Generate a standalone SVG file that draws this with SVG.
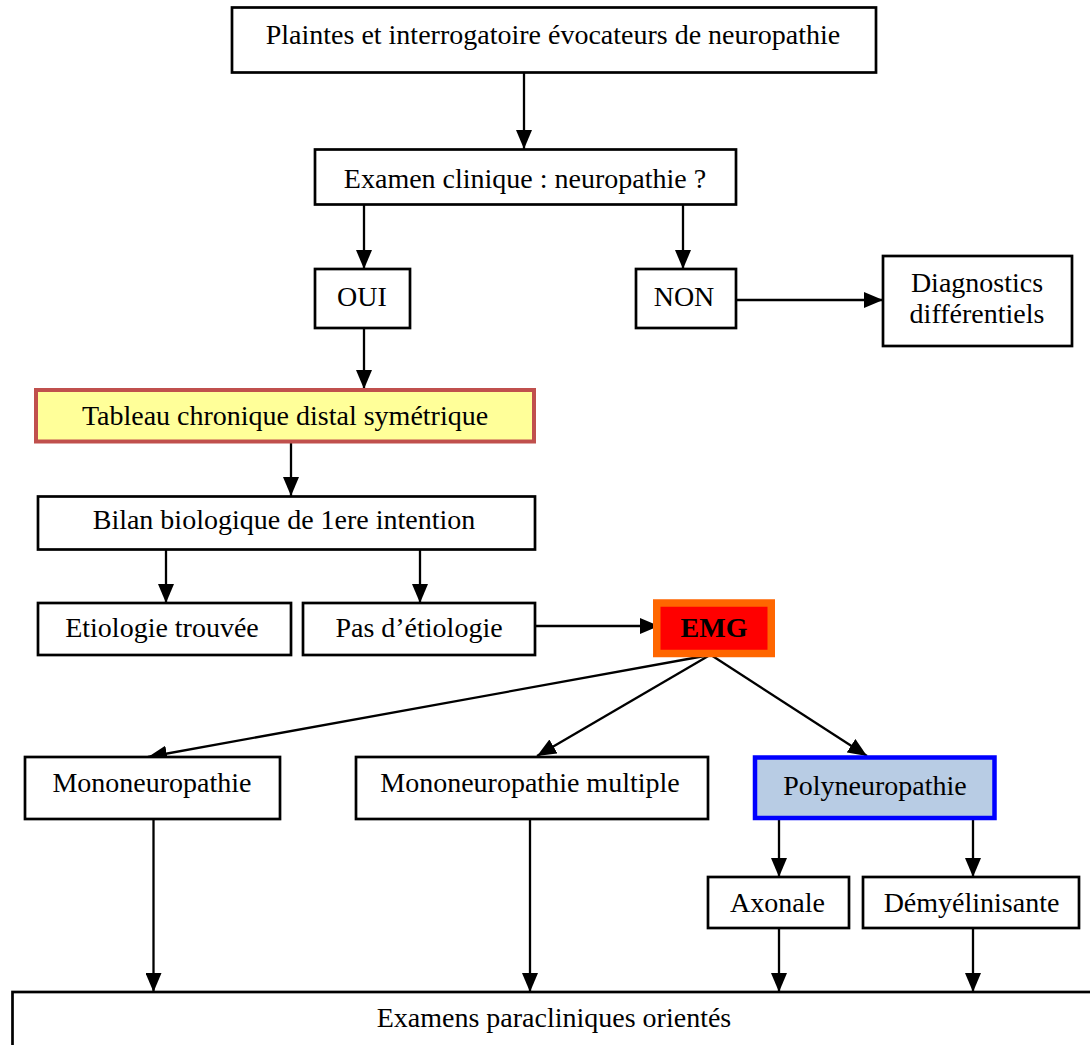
<svg xmlns="http://www.w3.org/2000/svg" width="1090" height="1045" viewBox="0 0 1090 1045">
<defs>
<style>
.box{fill:#ffffff;stroke:#000000;stroke-width:2.7}
.t{font-family:"Liberation Serif","Times New Roman",serif;font-size:28px;fill:#000000;text-anchor:middle}
.c{fill:none;stroke:#000000;stroke-width:2.3}
</style>
<marker id="ah" markerUnits="userSpaceOnUse" markerWidth="19" markerHeight="16" refX="19" refY="8" orient="auto">
<path d="M0,0 L19,8 L0,16 z" fill="#000000"/>
</marker>
</defs>
<rect width="1090" height="1045" fill="#ffffff"/>
<g id="connectors">
<line class="c" x1="524" y1="73" x2="524" y2="149" marker-end="url(#ah)"/>
<line class="c" x1="364" y1="204" x2="364" y2="269" marker-end="url(#ah)"/>
<line class="c" x1="683" y1="204" x2="683" y2="269" marker-end="url(#ah)"/>
<line class="c" x1="736" y1="300" x2="883" y2="300" marker-end="url(#ah)"/>
<line class="c" x1="364" y1="328" x2="364" y2="389" marker-end="url(#ah)"/>
<line class="c" x1="291" y1="443" x2="291" y2="496" marker-end="url(#ah)"/>
<line class="c" x1="166" y1="550" x2="166" y2="603" marker-end="url(#ah)"/>
<line class="c" x1="420" y1="550" x2="420" y2="603" marker-end="url(#ah)"/>
<line class="c" x1="535" y1="626" x2="659" y2="626" marker-end="url(#ah)"/>
<line class="c" x1="710" y1="655" x2="148" y2="757" marker-end="url(#ah)"/>
<line class="c" x1="710" y1="655" x2="537" y2="756" marker-end="url(#ah)"/>
<line class="c" x1="711" y1="655" x2="867" y2="756" marker-end="url(#ah)"/>
<line class="c" x1="153.5" y1="820" x2="153.5" y2="992" marker-end="url(#ah)"/>
<line class="c" x1="530" y1="820" x2="530" y2="992" marker-end="url(#ah)"/>
<line class="c" x1="779" y1="820" x2="779" y2="877" marker-end="url(#ah)"/>
<line class="c" x1="973" y1="820" x2="973" y2="877" marker-end="url(#ah)"/>
<line class="c" x1="779" y1="928" x2="779" y2="992" marker-end="url(#ah)"/>
<line class="c" x1="973" y1="928" x2="973" y2="992" marker-end="url(#ah)"/>
</g>
<g id="n-plaintes">
<rect class="box" x="232" y="7.5" width="644" height="65"/>
<text class="t" x="553" y="44">Plaintes et interrogatoire évocateurs de neuropathie</text>
</g>
<g id="n-examen">
<rect class="box" x="315" y="149.5" width="421" height="55"/>
<text class="t" x="525" y="188">Examen clinique : neuropathie ?</text>
</g>
<g id="n-oui">
<rect class="box" x="315" y="269" width="95" height="59"/>
<text class="t" x="362" y="306">OUI</text>
</g>
<g id="n-non">
<rect class="box" x="636" y="269" width="100" height="59"/>
<text class="t" x="684" y="306">NON</text>
</g>
<g id="n-diag">
<rect class="box" x="883" y="256" width="189" height="90"/>
<text class="t" x="977" y="292">Diagnostics</text>
<text class="t" x="977" y="323">différentiels</text>
</g>
<g id="n-tableau">
<rect x="36" y="390" width="498" height="51.5" fill="#FFFF99" stroke="#C0504D" stroke-width="4"/>
<text class="t" x="285" y="425">Tableau chronique distal symétrique</text>
</g>
<g id="n-bilan">
<rect class="box" x="38" y="496.5" width="497" height="53"/>
<text class="t" x="284" y="529">Bilan biologique de 1ere intention</text>
</g>
<g id="n-etiologie">
<rect class="box" x="38" y="603" width="253" height="52"/>
<text class="t" x="162" y="637">Etiologie trouvée</text>
</g>
<g id="n-pas">
<rect class="box" x="303" y="603" width="232" height="52"/>
<text class="t" x="419" y="637">Pas d’étiologie</text>
</g>
<g id="n-emg">
<rect x="656.75" y="603" width="114.5" height="50.5" fill="#FF0000" stroke="#FF6600" stroke-width="7.5"/>
<text class="t" x="714" y="637" font-weight="bold">EMG</text>
</g>
<g id="n-mono">
<rect class="box" x="25" y="757" width="255" height="62"/>
<text class="t" x="152" y="792">Mononeuropathie</text>
</g>
<g id="n-multi">
<rect class="box" x="356" y="757" width="352" height="62"/>
<text class="t" x="530" y="792">Mononeuropathie multiple</text>
</g>
<g id="n-poly">
<rect x="755" y="757.5" width="239.5" height="60.5" fill="#B8CCE4" stroke="#0000FF" stroke-width="4.5"/>
<text class="t" x="875" y="795">Polyneuropathie</text>
</g>
<g id="n-axonale">
<rect class="box" x="708" y="877" width="141" height="51"/>
<text class="t" x="777.5" y="912">Axonale</text>
</g>
<g id="n-demy">
<rect class="box" x="863" y="877" width="216" height="51"/>
<text class="t" x="971.5" y="912">Démyélinisante</text>
</g>
<g id="n-examens">
<rect class="box" x="12.5" y="992" width="1090" height="70"/>
<text class="t" x="554" y="1027">Examens paracliniques orientés</text>
</g>
</svg>
